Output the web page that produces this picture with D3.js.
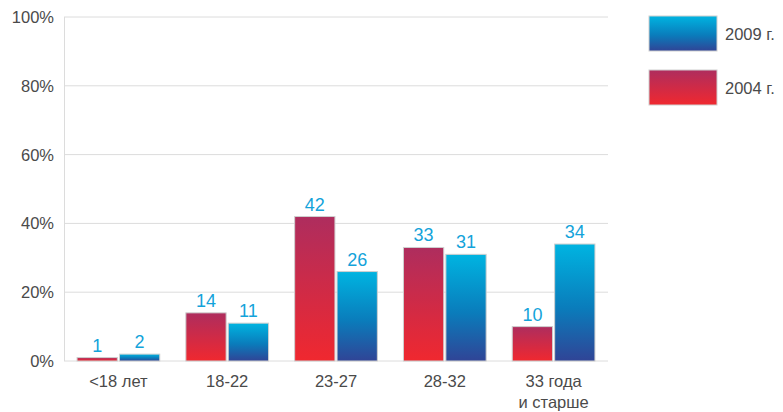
<!DOCTYPE html>
<html><head><meta charset="utf-8">
<script src="https://cdn.jsdelivr.net/npm/d3@7"></script>
<style>body{margin:0;background:#fff}svg{display:block}text{font-family:Arial,"Liberation Sans",sans-serif}</style>
</head><body><svg id="c" width="783" height="412"></svg>
<script>
const categories = ["<18 лет", "18-22", "23-27", "28-32", "33 года\nи старше"];
const series = ["2004 г.", "2009 г."];
const values2004 = [1, 14, 42, 33, 10];
const values2009 = [2, 11, 26, 31, 34];
const yTicks = [0, 20, 40, 60, 80, 100];

const svg = d3.select("#c");
const m = {l: 64, r: 608, t: 17, b: 361};
const x = d3.scaleBand().domain(categories).range([m.l, m.r]).paddingInner(0.24).paddingOuter(0.12);
const x1 = d3.scaleBand().domain(series).range([0, x.bandwidth()]).paddingInner(0.05);
const y = d3.scaleLinear().domain([0, 100]).range([m.b, m.t]);

const defs = svg.append("defs");
const gr = defs.append("linearGradient").attr("id", "gRed").attr("x1", 0).attr("y1", 0).attr("x2", 0).attr("y2", 1);
gr.append("stop").attr("offset", "0%").attr("stop-color", "#ae2d5e");
gr.append("stop").attr("offset", "100%").attr("stop-color", "#f0282f");
const gb = defs.append("linearGradient").attr("id", "gBlue").attr("x1", 0).attr("y1", 0).attr("x2", 0).attr("y2", 1);
gb.append("stop").attr("offset", "0%").attr("stop-color", "#00b4e1");
gb.append("stop").attr("offset", "55%").attr("stop-color", "#0a7cbb");
gb.append("stop").attr("offset", "100%").attr("stop-color", "#304496");

// grid
svg.append("g").selectAll("line").data(yTicks).join("line")
  .attr("x1", m.l).attr("x2", m.r).attr("y1", d => y(d)).attr("y2", d => y(d))
  .attr("stroke", "#dcdcdc").attr("stroke-width", 1);
svg.append("line").attr("x1", m.l + 0.5).attr("x2", m.l + 0.5).attr("y1", m.t).attr("y2", m.b)
  .attr("stroke", "#dcdcdc");

// y labels
svg.append("g").selectAll("text").data(yTicks).join("text")
  .attr("x", 54).attr("y", d => y(d) + 6).attr("text-anchor", "end")
  .attr("font-size", 16.5).attr("fill", "#4a4a4a").text(d => d + "%");

const data = categories.map((c, i) => ({c, v: [values2004[i], values2009[i]]}));
const fills = ["url(#gRed)", "url(#gBlue)"];
const g = svg.append("g");
data.forEach(d => {
  d.v.forEach((v, j) => {
    const bx = x(d.c) + x1(series[j]);
    g.append("rect").attr("x", bx).attr("y", y(v)).attr("width", x1.bandwidth())
      .attr("height", y(0) - y(v)).attr("fill", fills[j]).attr("stroke", "#cfcfcf").attr("stroke-width", 1);
    g.append("text").attr("x", bx + x1.bandwidth() / 2).attr("y", y(v) - 6)
      .attr("text-anchor", "middle").attr("font-size", 18).attr("fill", "#13a3da").text(v);
  });
});

// x labels
categories.forEach(c => {
  const lines = c.split("\n");
  const t = svg.append("text").attr("x", x(c) + x.bandwidth() / 2).attr("y", 387)
    .attr("text-anchor", "middle").attr("font-size", 16.5).attr("fill", "#4a4a4a");
  lines.forEach((l, i) => t.append("tspan").attr("x", x(c) + x.bandwidth() / 2).attr("dy", i ? 21 : 0).text(l));
});

// legend
const legend = [{s: "2009 г.", f: "url(#gBlue)", y: 16}, {s: "2004 г.", f: "url(#gRed)", y: 70}];
legend.forEach(l => {
  svg.append("rect").attr("x", 649).attr("y", l.y).attr("width", 68).attr("height", 35)
    .attr("fill", l.f).attr("stroke", "#cfcfcf");
  svg.append("text").attr("x", 725).attr("y", l.y + 24).attr("font-size", 16.5).attr("fill", "#4a4a4a").text(l.s);
});
</script></body></html>
